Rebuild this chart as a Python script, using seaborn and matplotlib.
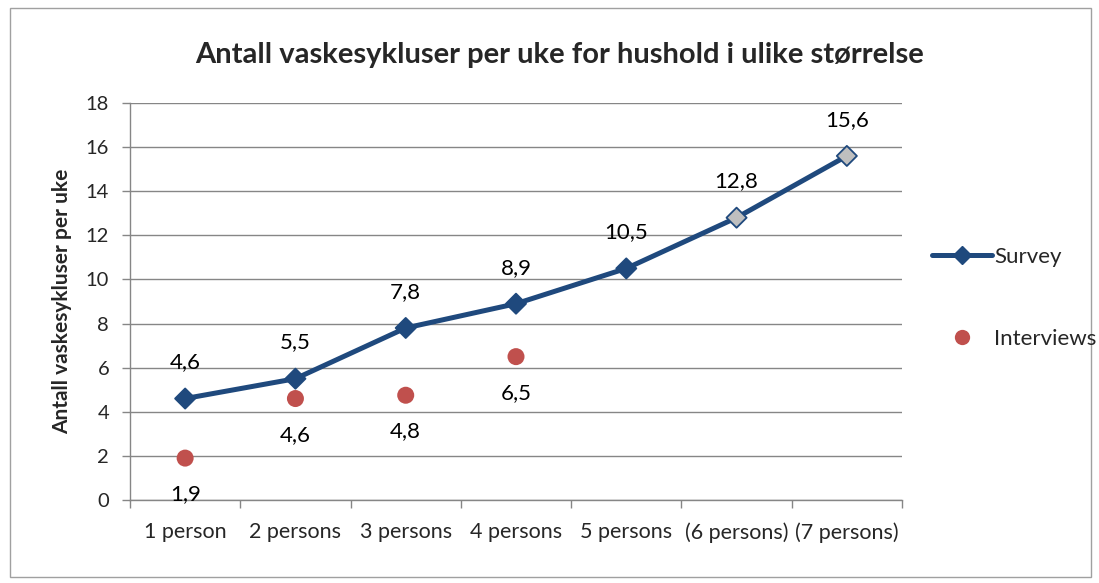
import matplotlib
matplotlib.use("Agg")
import matplotlib.pyplot as plt
import seaborn as sns
import pandas as pd
from matplotlib.lines import Line2D
from matplotlib.patches import Rectangle

categories = ["1 person", "2 persons", "3 persons", "4 persons", "5 persons", "(6 persons)", "(7 persons)"]
survey = [4.6, 5.5, 7.8, 8.9, 10.5, 12.8, 15.6]
survey_labels = ["4,6", "5,5", "7,8", "8,9", "10,5", "12,8", "15,6"]
interview_cats = ["1 person", "2 persons", "3 persons", "4 persons"]
interviews = [1.9, 4.6, 4.75, 6.5]
interview_labels = ["1,9", "4,6", "4,8", "6,5"]
title = "Antall vaskesykluser per uke for hushold i ulike størrelse"
ylabel = "Antall vaskesykluser per uke"

sns.set_theme(style="white")
plt.rcParams["font.family"] = ["Lato", "DejaVu Sans"]

BLUE = "#1F497D"
RED = "#C0504D"
GRAY = "#868686"

fig = plt.figure(figsize=(10.99, 5.83), dpi=100)
ax = fig.add_axes([130/1099, 1 - 500/583, (902-130)/1099, (500-103)/583])

xs = list(range(len(categories)))
df_s = pd.DataFrame({"x": xs, "y": survey})
df_i = pd.DataFrame({"x": [categories.index(c) for c in interview_cats], "y": interviews})

sns.lineplot(data=df_s, x="x", y="y", ax=ax, color=BLUE, linewidth=3.6, zorder=3)
face = [BLUE] * 5 + ["#BFBFBF"] * 2
ax.scatter(df_s["x"], df_s["y"], marker="D", s=105, c=face, edgecolors=BLUE, linewidths=1.3, zorder=4)
sns.scatterplot(data=df_i, x="x", y="y", ax=ax, color=RED, s=150, edgecolor="none", zorder=4)

for x, y, t in zip(xs, survey, survey_labels):
    ax.annotate(t, (x, y), xytext=(0, 26), textcoords="offset points", ha="center", va="center", fontsize=16, color="black")
for x, y, t in zip(df_i["x"], interviews, interview_labels):
    ax.annotate(t, (x, y), xytext=(0, -26), textcoords="offset points", ha="center", va="center", fontsize=16, color="black")

ax.set_xlim(-0.5, len(categories) - 0.5)
ax.set_ylim(0, 18)
ax.set_yticks(range(0, 19, 2))
ax.set_yticklabels([str(v) for v in range(0, 19, 2)], fontsize=14.5)
ax.set_xticks(xs)
ax.set_xticklabels(categories, fontsize=15.5)
ax.set_xticks([i - 0.5 for i in range(len(categories) + 1)], minor=True)
ax.tick_params(axis="x", which="major", length=0, pad=16)
ax.tick_params(axis="x", which="minor", length=6, width=1, color=GRAY, direction="out", bottom=True)
ax.tick_params(axis="y", length=6, width=1, color=GRAY, direction="out", left=True, pad=9)
ax.grid(axis="y", color=GRAY, linewidth=1)
ax.set_axisbelow(True)
for s in ["top", "right"]:
    ax.spines[s].set_visible(False)
for s in ["left", "bottom"]:
    ax.spines[s].set_color(GRAY)
    ax.spines[s].set_linewidth(1)
ax.set_xlabel("")
ax.set_ylabel(ylabel, fontsize=15, fontweight="bold", labelpad=10)

fig.text(560/1099, 1 - 55/583, title, ha="center", va="center", fontsize=21, fontweight="bold")

handles = [
    Line2D([0], [0], color=BLUE, linewidth=3.6, marker="D", markersize=9, markerfacecolor=BLUE, markeredgecolor=BLUE),
    Line2D([0], [0], color="none", marker="o", markersize=11, markerfacecolor=RED, markeredgecolor="none"),
]
fig.legend(handles, ["Survey", "Interviews"], loc="center left", bbox_to_anchor=(912/1099, 1 - 298/583),
           frameon=False, fontsize=16, labelspacing=2.8, handlelength=2.7, handletextpad=0.1)

fig.patches.append(Rectangle((10/1099, 1 - 577/583), 1081/1099, 569/583, transform=fig.transFigure,
                             fill=False, edgecolor="#A0A0A0", linewidth=1))

fig.savefig("out.png", dpi=100)
